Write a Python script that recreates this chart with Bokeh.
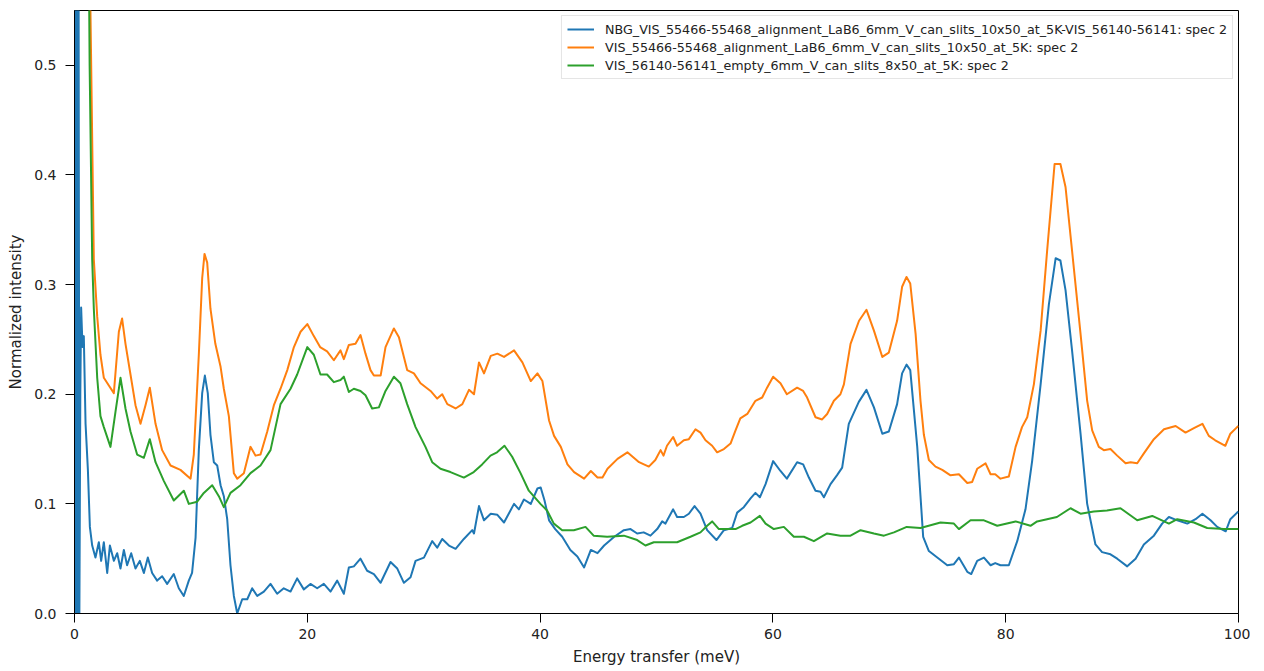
from bokeh.plotting import figure
from bokeh.models import Range1d, FixedTicker, CustomJSTickFormatter
from bokeh.embed import file_html
from bokeh.resources import INLINE

# ---- data ----
nbg_points = [
    (0.0, 0.0), (0.05, 0.6), (0.12, 0.0), (0.2, 0.6), (0.28, 0.0), (0.35, 0.6), (0.42, 0.0), (0.5, 0.2),
    (0.57, 0.279), (0.69, 0.243), (0.8, 0.253), (0.95, 0.173), (1.15, 0.131), (1.32, 0.079), (1.52, 0.062),
    (1.8, 0.051), (2.09, 0.065), (2.29, 0.048), (2.52, 0.065), (2.81, 0.037), (3.04, 0.062), (3.38, 0.048),
    (3.67, 0.055), (3.95, 0.041), (4.24, 0.058), (4.52, 0.044), (4.87, 0.055), (5.24, 0.041), (5.61, 0.048),
    (5.96, 0.037), (6.3, 0.051), (6.67, 0.037), (7.1, 0.03), (7.53, 0.034), (7.96, 0.027), (8.53, 0.036),
    (8.96, 0.023), (9.39, 0.016), (9.82, 0.03), (10.1, 0.037), (10.4, 0.069), (10.68, 0.149), (10.97, 0.201),
    (11.2, 0.217), (11.45, 0.201), (11.68, 0.163), (11.97, 0.138), (12.26, 0.135), (12.55, 0.117), (12.83, 0.107),
    (13.12, 0.086), (13.4, 0.044), (13.69, 0.016), (13.98, 0.0), (14.41, 0.013), (14.84, 0.013), (15.26, 0.023),
    (15.7, 0.016), (16.27, 0.02), (16.84, 0.027), (17.41, 0.018), (17.98, 0.023), (18.56, 0.02), (19.13, 0.032),
    (19.7, 0.022), (20.27, 0.027), (20.85, 0.023), (21.42, 0.027), (22.0, 0.02), (22.57, 0.03), (23.14, 0.018),
    (23.57, 0.042), (24.0, 0.043), (24.57, 0.05), (25.14, 0.039), (25.72, 0.036), (26.3, 0.028), (27.15, 0.047),
    (27.73, 0.041), (28.3, 0.028), (28.87, 0.033), (29.3, 0.048), (30.02, 0.051), (30.73, 0.066), (31.16, 0.06),
    (31.59, 0.068), (32.17, 0.062), (32.74, 0.059), (33.45, 0.068), (34.17, 0.076), (34.32, 0.073), (34.75, 0.098),
    (35.18, 0.085), (35.76, 0.091), (36.33, 0.09), (36.9, 0.083), (37.76, 0.1), (38.18, 0.095), (38.61, 0.104),
    (39.2, 0.1), (39.77, 0.114), (40.05, 0.115), (40.38, 0.103), (40.77, 0.085), (41.3, 0.077), (41.9, 0.07),
    (42.6, 0.058), (43.2, 0.052), (43.78, 0.042), (44.36, 0.058), (44.93, 0.055), (45.5, 0.062), (46.37, 0.07),
    (47.2, 0.076), (47.77, 0.077), (48.34, 0.073), (48.9, 0.074), (49.48, 0.071), (50.06, 0.077), (50.49, 0.084),
    (50.77, 0.082), (51.43, 0.095), (51.77, 0.088), (52.35, 0.088), (52.78, 0.091), (53.27, 0.098), (53.78, 0.091),
    (54.35, 0.076), (55.15, 0.067), (55.79, 0.076), (56.5, 0.078), (56.93, 0.092), (57.5, 0.097), (58.08, 0.105),
    (58.5, 0.11), (58.88, 0.106), (59.37, 0.118), (60.02, 0.139), (60.65, 0.13), (61.2, 0.123), (62.08, 0.138),
    (62.6, 0.136), (63.09, 0.124), (63.66, 0.112), (64.09, 0.111), (64.38, 0.106), (64.95, 0.118), (65.5, 0.126),
    (65.95, 0.133), (66.52, 0.173), (67.38, 0.193), (68.04, 0.204), (68.68, 0.188), (69.4, 0.164), (69.96, 0.166),
    (70.67, 0.191), (71.1, 0.219), (71.48, 0.227), (71.8, 0.222), (72.4, 0.152), (72.91, 0.07), (73.4, 0.057),
    (74.26, 0.05), (74.98, 0.044), (75.55, 0.045), (75.98, 0.051), (76.7, 0.038), (77.04, 0.036), (77.55, 0.048),
    (78.13, 0.051), (78.7, 0.044), (79.1, 0.046), (79.55, 0.044), (80.27, 0.044), (80.99, 0.066), (81.7, 0.095),
    (82.27, 0.139), (83.0, 0.209), (83.71, 0.282), (84.29, 0.324), (84.7, 0.322), (85.14, 0.295), (85.7, 0.24),
    (86.43, 0.164), (87.0, 0.1), (87.71, 0.063), (88.28, 0.056), (89.0, 0.054), (89.58, 0.05), (90.44, 0.043),
    (91.16, 0.05), (91.87, 0.063), (92.73, 0.071), (93.44, 0.082), (94.02, 0.088), (94.74, 0.085), (95.6, 0.082),
    (96.31, 0.086), (96.9, 0.091), (97.6, 0.085), (98.17, 0.079), (98.9, 0.075), (99.3, 0.086), (99.88, 0.092),
    (100.0, 0.093),
]

lab6_points = [
    (1.1, 0.8), (1.37, 0.55), (1.66, 0.323), (1.95, 0.271), (2.23, 0.236), (2.52, 0.215), (2.95, 0.208),
    (3.38, 0.201), (3.81, 0.257), (4.09, 0.269), (4.38, 0.246), (4.81, 0.218), (5.24, 0.19), (5.67, 0.173),
    (6.1, 0.19), (6.47, 0.206), (6.96, 0.173), (7.53, 0.149), (8.25, 0.135), (9.1, 0.131), (9.97, 0.123),
    (10.25, 0.145), (10.68, 0.236), (10.97, 0.306), (11.17, 0.328), (11.4, 0.32), (11.68, 0.278), (12.1, 0.246),
    (12.55, 0.225), (12.83, 0.205), (13.26, 0.18), (13.69, 0.128), (13.98, 0.123), (14.55, 0.128), (15.12, 0.152),
    (15.55, 0.144), (15.98, 0.145), (16.56, 0.166), (17.13, 0.19), (17.7, 0.205), (18.28, 0.222), (18.85, 0.243),
    (19.42, 0.257), (20.0, 0.264), (20.56, 0.253), (21.1, 0.243), (21.7, 0.239), (22.28, 0.231), (22.85, 0.24),
    (23.14, 0.232), (23.57, 0.245), (24.14, 0.246), (24.57, 0.254), (25.0, 0.237), (25.43, 0.222), (25.72, 0.217),
    (26.3, 0.217), (26.72, 0.243), (27.44, 0.26), (27.87, 0.252), (28.58, 0.222), (29.16, 0.219), (29.73, 0.21),
    (30.59, 0.203), (31.16, 0.196), (31.59, 0.2), (32.03, 0.191), (32.74, 0.187), (33.32, 0.191), (33.89, 0.204),
    (34.32, 0.2), (34.75, 0.229), (35.18, 0.219), (35.76, 0.235), (36.33, 0.237), (36.9, 0.234), (37.76, 0.24),
    (38.48, 0.229), (39.2, 0.212), (39.77, 0.219), (40.2, 0.212), (40.77, 0.176), (41.2, 0.162), (41.78, 0.152),
    (42.35, 0.136), (42.92, 0.129), (43.78, 0.123), (44.36, 0.13), (44.93, 0.124), (45.36, 0.124), (45.79, 0.132),
    (46.65, 0.141), (47.5, 0.147), (48.5, 0.138), (49.34, 0.134), (49.9, 0.14), (50.35, 0.149), (50.6, 0.144),
    (50.9, 0.153), (51.43, 0.161), (51.77, 0.153), (52.35, 0.158), (52.78, 0.159), (53.35, 0.168), (53.78, 0.165),
    (54.21, 0.158), (54.78, 0.153), (55.21, 0.147), (55.79, 0.15), (56.36, 0.155), (56.79, 0.167), (57.2, 0.178),
    (57.8, 0.182), (58.5, 0.194), (59.08, 0.197), (59.5, 0.206), (60.02, 0.216), (60.65, 0.21), (61.2, 0.2),
    (62.08, 0.206), (62.6, 0.203), (62.94, 0.197), (63.66, 0.179), (64.23, 0.177), (64.66, 0.182), (65.24, 0.194),
    (65.8, 0.2), (66.1, 0.209), (66.67, 0.246), (67.4, 0.267), (68.04, 0.277), (68.68, 0.258), (69.4, 0.234),
    (69.96, 0.238), (70.67, 0.267), (71.1, 0.298), (71.48, 0.307), (71.8, 0.301), (72.26, 0.255), (72.68, 0.194),
    (72.97, 0.163), (73.4, 0.14), (73.97, 0.134), (74.55, 0.131), (75.26, 0.126), (75.98, 0.127), (76.7, 0.119),
    (77.12, 0.12), (77.55, 0.132), (78.27, 0.137), (78.7, 0.127), (79.1, 0.127), (79.55, 0.123), (80.27, 0.125),
    (80.85, 0.152), (81.4, 0.17), (81.85, 0.179), (82.42, 0.209), (83.0, 0.258), (83.56, 0.331), (84.2, 0.41),
    (84.7, 0.41), (85.14, 0.389), (85.7, 0.331), (86.43, 0.255), (87.0, 0.194), (87.43, 0.167), (88.0, 0.152),
    (88.43, 0.149), (89.0, 0.15), (89.58, 0.144), (90.3, 0.137), (90.73, 0.138), (91.3, 0.137), (91.87, 0.146),
    (92.73, 0.159), (93.6, 0.168), (94.6, 0.171), (95.45, 0.165), (96.17, 0.169), (96.9, 0.173), (97.45, 0.162),
    (98.0, 0.158), (98.87, 0.153), (99.3, 0.164), (99.88, 0.17), (100.0, 0.171),
]

empty_points = [
    (1.09, 0.8), (1.3, 0.5), (1.52, 0.323), (1.66, 0.278), (1.95, 0.215), (2.23, 0.18), (2.52, 0.17),
    (3.09, 0.152), (3.52, 0.184), (3.95, 0.215), (4.38, 0.187), (4.81, 0.166), (5.38, 0.145), (5.96, 0.142),
    (6.47, 0.159), (6.96, 0.138), (7.67, 0.121), (8.53, 0.103), (9.39, 0.112), (9.82, 0.1), (10.54, 0.102),
    (11.11, 0.11), (11.83, 0.117), (12.4, 0.107), (12.83, 0.097), (13.4, 0.11), (14.26, 0.117), (15.12, 0.128),
    (15.98, 0.135), (16.84, 0.149), (17.7, 0.191), (18.56, 0.205), (19.13, 0.218), (20.0, 0.243), (20.56, 0.236),
    (21.13, 0.218), (21.7, 0.218), (22.28, 0.211), (22.85, 0.213), (23.14, 0.216), (23.57, 0.202), (24.0, 0.205),
    (24.57, 0.203), (25.0, 0.199), (25.57, 0.187), (26.15, 0.188), (26.72, 0.203), (27.44, 0.216), (28.0, 0.21),
    (28.58, 0.191), (29.3, 0.17), (30.15, 0.152), (30.73, 0.138), (31.44, 0.132), (32.3, 0.129), (33.45, 0.124),
    (34.3, 0.129), (35.02, 0.136), (35.74, 0.144), (36.3, 0.147), (36.94, 0.153), (37.6, 0.143), (38.32, 0.128),
    (39.03, 0.112), (40.03, 0.1), (40.6, 0.094), (41.18, 0.082), (41.9, 0.076), (42.9, 0.076), (43.9, 0.079),
    (44.6, 0.071), (45.76, 0.07), (47.2, 0.071), (48.34, 0.067), (49.05, 0.062), (49.77, 0.065), (50.9, 0.065),
    (51.77, 0.065), (52.92, 0.07), (53.78, 0.074), (54.35, 0.08), (54.78, 0.084), (55.36, 0.077), (56.07, 0.077),
    (56.79, 0.077), (57.36, 0.08), (58.08, 0.083), (58.88, 0.089), (59.37, 0.082), (60.08, 0.077), (60.94, 0.079),
    (61.8, 0.07), (62.66, 0.07), (63.52, 0.066), (64.66, 0.073), (65.8, 0.071), (66.67, 0.071), (67.53, 0.076),
    (68.68, 0.073), (69.54, 0.071), (70.4, 0.074), (71.5, 0.079), (72.68, 0.078), (74.4, 0.083), (75.55, 0.082),
    (75.98, 0.077), (76.98, 0.085), (78.13, 0.085), (79.27, 0.08), (80.85, 0.084), (82.13, 0.08), (82.7, 0.084),
    (84.4, 0.088), (85.57, 0.096), (86.43, 0.091), (87.57, 0.093), (88.7, 0.094), (89.86, 0.096), (91.3, 0.085),
    (92.59, 0.089), (94.02, 0.082), (94.74, 0.086), (96.17, 0.083), (97.31, 0.078), (98.75, 0.077), (99.88, 0.077),
    (100.0, 0.077),
]

series_labels = [
    "NBG_VIS_55466-55468_alignment_LaB6_6mm_V_can_slits_10x50_at_5K-VIS_56140-56141: spec 2",
    "VIS_55466-55468_alignment_LaB6_6mm_V_can_slits_10x50_at_5K: spec 2",
    "VIS_56140-56141_empty_6mm_V_can_slits_8x50_at_5K: spec 2",
]
series_colors = ["#1f77b4", "#ff7f0e", "#2ca02c"]
x_ticks = [0, 20, 40, 60, 80, 100]
y_ticks = [0.0, 0.1, 0.2, 0.3, 0.4, 0.5]

FONT = "DejaVu Sans"

p = figure(
    width=1250, height=669,
    x_range=Range1d(0, 100), y_range=Range1d(0, 0.55),
    output_backend="svg", toolbar_location=None,
    min_border_left=74, min_border_right=12, min_border_top=10, min_border_bottom=56,
)
p.background_fill_color = "white"
p.border_fill_color = "white"
p.outline_line_color = "black"
p.outline_line_width = 1
p.grid.visible = False

for pts, lab, col in zip([nbg_points, lab6_points, empty_points], series_labels, series_colors):
    xs = [a for a, b in pts]
    ys = [b for a, b in pts]
    p.line(xs, ys, line_color=col, line_width=2, line_join="round", legend_label=lab)

for ax in (p.xaxis[0], p.yaxis[0]):
    ax.major_tick_out = 9
    ax.major_tick_in = 0
    ax.minor_tick_out = 0
    ax.minor_tick_in = 0
    ax.major_label_text_font = FONT
    ax.major_label_text_font_size = "14px"
    ax.major_label_text_color = "#222222"
    ax.axis_line_color = "black"
    ax.major_tick_line_color = "black"
    ax.axis_label_text_font = FONT
    ax.axis_label_text_font_size = "15px"
    ax.axis_label_text_font_style = "normal"
    ax.axis_label_text_color = "#222222"

p.xaxis[0].ticker = FixedTicker(ticks=x_ticks)
p.yaxis[0].ticker = FixedTicker(ticks=y_ticks)
p.yaxis[0].formatter = CustomJSTickFormatter(code="return tick.toFixed(1);")
p.xaxis[0].formatter = CustomJSTickFormatter(code="return tick.toFixed(0);")

p.yaxis[0].axis_label = "Normalized intensity"
p.yaxis[0].major_label_standoff = 9
p.yaxis[0].axis_label_standoff = 6

p.xaxis[0].axis_label = "Energy transfer (meV)"
p.xaxis[0].major_label_standoff = 6
p.xaxis[0].axis_label_standoff = 6

lg = p.legend[0]
lg.location = "top_right"
lg.margin = 5
lg.padding = 5
lg.spacing = 2
lg.glyph_width = 27
lg.glyph_height = 16
lg.label_height = 16
lg.label_standoff = 11
lg.label_text_font = FONT
lg.label_text_font_size = "12.7px"
lg.label_text_color = "#222222"
lg.border_line_color = "#cccccc"
lg.border_line_width = 1
lg.background_fill_alpha = 0.8

open("out.html", "w").write(file_html(p, INLINE))
